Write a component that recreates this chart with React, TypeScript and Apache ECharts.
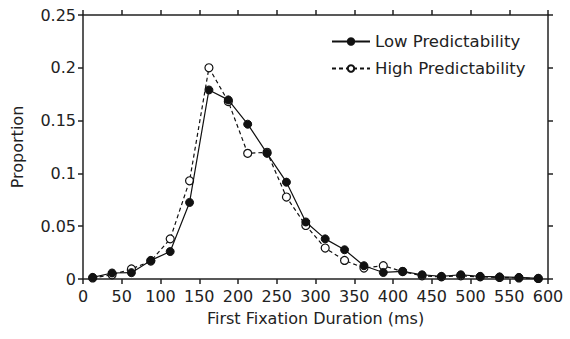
import React, { useEffect, useRef } from "react";
import * as echarts from "echarts";

const durations = [12.5, 37.5, 62.5, 87.5, 112.5, 137.5, 162.5, 187.5, 212.5, 237.5, 262.5, 287.5, 312.5, 337.5, 362.5, 387.5, 412.5, 437.5, 462.5, 487.5, 512.5, 537.5, 562.5, 587.5];
const lowPred = [0.0015, 0.0057, 0.006, 0.0176, 0.026, 0.0725, 0.179, 0.1696, 0.1466, 0.119, 0.0917, 0.054, 0.038, 0.0277, 0.0126, 0.0062, 0.0072, 0.004, 0.0025, 0.004, 0.0025, 0.002, 0.0015, 0.0005];
const highPred = [0.001, 0.004, 0.0095, 0.017, 0.038, 0.093, 0.2, 0.168, 0.119, 0.12, 0.0776, 0.0507, 0.0293, 0.0176, 0.0104, 0.0126, 0.007, 0.003, 0.002, 0.003, 0.002, 0.0015, 0.001, 0.0005];
const yTicks = ["0", "0.05", "0.1", "0.15", "0.2", "0.25"];

export default function App() {
  const ref = useRef<HTMLDivElement>(null);
  useEffect(() => {
    if (!ref.current) return;
    const chart = echarts.init(ref.current, null, { renderer: "svg" });
    const font = "DejaVu Sans, sans-serif";
    const axisLine = { show: true, onZero: false, lineStyle: { color: "#222", width: 1.5 } };
    const axisTick = { show: true, inside: false, length: 5, lineStyle: { color: "#222", width: 1.5 } };
    const txt = { fontFamily: font, fontSize: 16, color: "#222" };
    chart.setOption({
      animation: false,
      backgroundColor: "#fff",
      grid: { left: 83, right: 22, top: 15, bottom: 60 },
      legend: {
        left: 326,
        top: 28,
        orient: "vertical",
        itemWidth: 38,
        itemHeight: 8,
        itemGap: 10,
        textStyle: { ...txt, fontSize: 16.5 },
        data: ["Low Predictability", "High Predictability"],
      },
      xAxis: [
        {
          type: "value",
          min: 0,
          max: 600,
          interval: 50,
          position: "bottom",
          name: "First Fixation Duration (ms)",
          nameLocation: "middle",
          nameGap: 31,
          nameTextStyle: txt,
          axisLine,
          axisTick,
          splitLine: { show: false },
          axisLabel: { ...txt, margin: 9 },
        },
        {
          type: "value",
          min: 0,
          max: 600,
          interval: 50,
          position: "top",
          axisLine,
          axisTick,
          splitLine: { show: false },
          axisLabel: { show: false },
        },
      ],
      yAxis: [
        {
          type: "value",
          min: 0,
          max: 0.25,
          interval: 0.05,
          position: "left",
          name: "Proportion",
          nameLocation: "middle",
          nameGap: 58,
          nameTextStyle: txt,
          axisLine,
          axisTick,
          splitLine: { show: false },
          axisLabel: {
            ...txt,
            margin: 7,
            formatter: (v: number) => yTicks[Math.round(v / 0.05)] ?? "",
          },
        },
        {
          type: "value",
          min: 0,
          max: 0.25,
          interval: 0.05,
          position: "right",
          axisLine,
          axisTick,
          splitLine: { show: false },
          axisLabel: { show: false },
        },
      ],
      series: [
        {
          name: "High Predictability",
          type: "line",
          data: durations.map((d, i) => [d, highPred[i]]),
          symbol: "circle",
          symbolSize: 8,
          lineStyle: { color: "#111", width: 1.2, type: [4, 3] },
          itemStyle: { color: "#fff", borderColor: "#111", borderWidth: 1.2 },
          z: 2,
        },
        {
          name: "Low Predictability",
          type: "line",
          data: durations.map((d, i) => [d, lowPred[i]]),
          symbol: "circle",
          symbolSize: 8,
          lineStyle: { color: "#111", width: 1.2 },
          itemStyle: { color: "#111", borderColor: "#111", borderWidth: 1 },
          z: 3,
        },
      ],
    });
    return () => chart.dispose();
  }, []);
  return <div ref={ref} style={{ width: 570, height: 339, position: "absolute", left: 0, top: 0 }} />;
}
